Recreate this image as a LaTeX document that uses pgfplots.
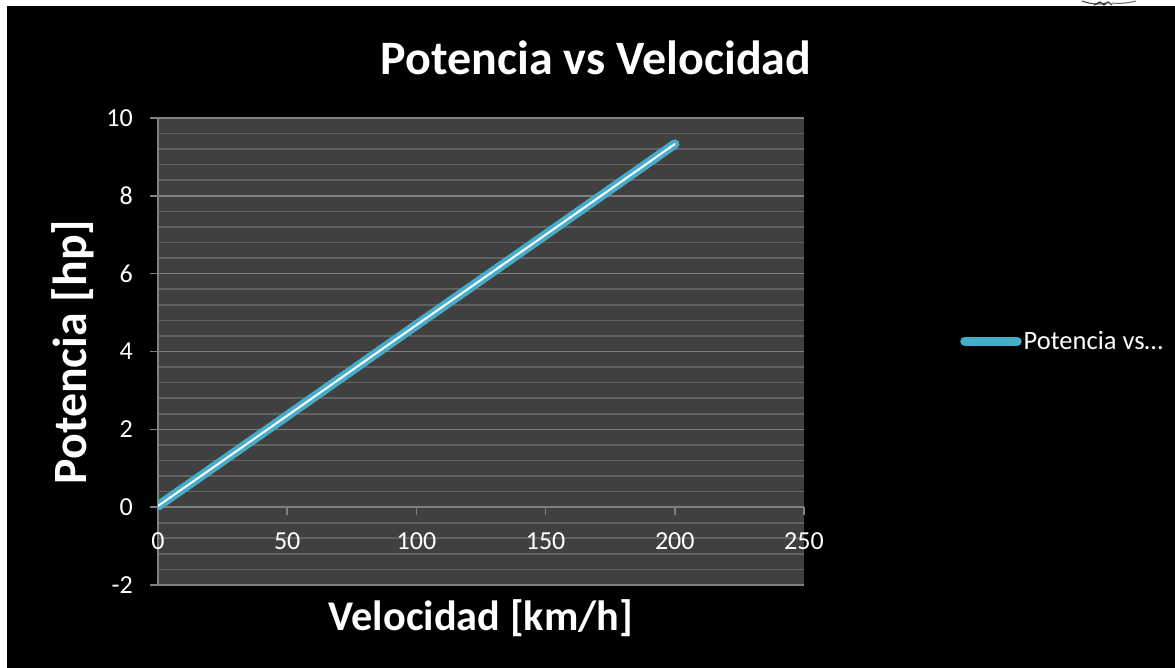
\documentclass[border=0pt]{standalone}
\usepackage{pgfplots}
\pgfplotsset{compat=1.18}
\usepackage{fontspec}
\setmainfont{Carlito}
\definecolor{plotbg}{HTML}{404040}
\definecolor{majgrid}{HTML}{808080}
\definecolor{mingrid}{HTML}{626262}
\definecolor{serblue}{HTML}{45ACC9}
\begin{document}
\begin{tikzpicture}[x=1pt,y=1pt]
\path[use as bounding box,fill=white] (0,0) rectangle (1175,668);
\fill[black] (7,0) rectangle (1175,662);
% small remnant of a drawing above the chart's top edge
\draw[black!75,line width=1pt] (1082,667) .. controls (1090,664) and (1098,663) .. (1106,665);
\draw[black!80,line width=1.2pt] (1094,663) -- (1100,666) -- (1104,663) -- (1108,666) -- (1112,663);
\draw[black!60,line width=1pt] (1112,665) .. controls (1120,664) and (1128,665) .. (1136,667);
\begin{axis}[
  at={(158pt,83pt)},anchor=south west,
  width=646pt,height=467pt,scale only axis,
  xmin=0,xmax=250,ymin=-2,ymax=10,
  axis background/.style={fill=plotbg},
  axis x line=middle,axis y line=left,
  hide obscured x ticks=false,
  x axis line style={-,color=majgrid,line width=1.6pt},
  y axis line style={-,color=majgrid,line width=1.6pt},
  xtick={0,50,100,150,200,250},
  xticklabels={0,50,100,150,200,250},
  ytick={-2,0,2,4,6,8,10},
  yticklabels={-2,0,2,4,6,8,10},
  minor y tick num=4,
  ymajorgrids,yminorgrids,
  major grid style={color=majgrid,line width=1.6pt},
  minor grid style={color=mingrid,line width=1.6pt},
  tick align=outside,
  major tick length=8pt,minor tick length=0pt,
  tick style={color=majgrid,line width=1.6pt},
  xticklabel style={font=\fontsize{26}{28}\selectfont,text=white,inner sep=0pt,anchor=center,yshift=-26pt},
  yticklabel style={font=\fontsize{26}{28}\selectfont,text=white,inner sep=0pt,xshift=-17pt},
  legend style={at={(rel axis cs:1.2415,0.5217)},anchor=west,draw=none,fill=none,inner sep=0pt,
    font=\fontsize{26.5}{28}\selectfont,text=white},
  legend cell align=left,
  legend image code/.code={\draw[#1,line cap=round] (-1pt,0pt) -- (51pt,0pt);},
]
\addplot[color=serblue,line width=9.5pt,line cap=round] coordinates {(0,0.03) (50,2.35) (100,4.68) (150,7.0) (200,9.33)};
\addlegendentry{Potencia vs…}
\addplot[forget plot,color=white,line width=2pt,line cap=round] coordinates {(0,0.03) (50,2.35) (100,4.68) (150,7.0) (200,9.33)};
\end{axis}
\node[text=white,font=\fontsize{48}{52}\selectfont\bfseries] at (596,610) {Potencia vs Velocidad};
\node[text=white,font=\fontsize{42.3}{46}\selectfont\bfseries] at (481,50) {Velocidad [km/h]};
\node[text=white,font=\fontsize{47.8}{52}\selectfont\bfseries,rotate=90] at (73,316) {Potencia [hp]};
\end{tikzpicture}
\end{document}
